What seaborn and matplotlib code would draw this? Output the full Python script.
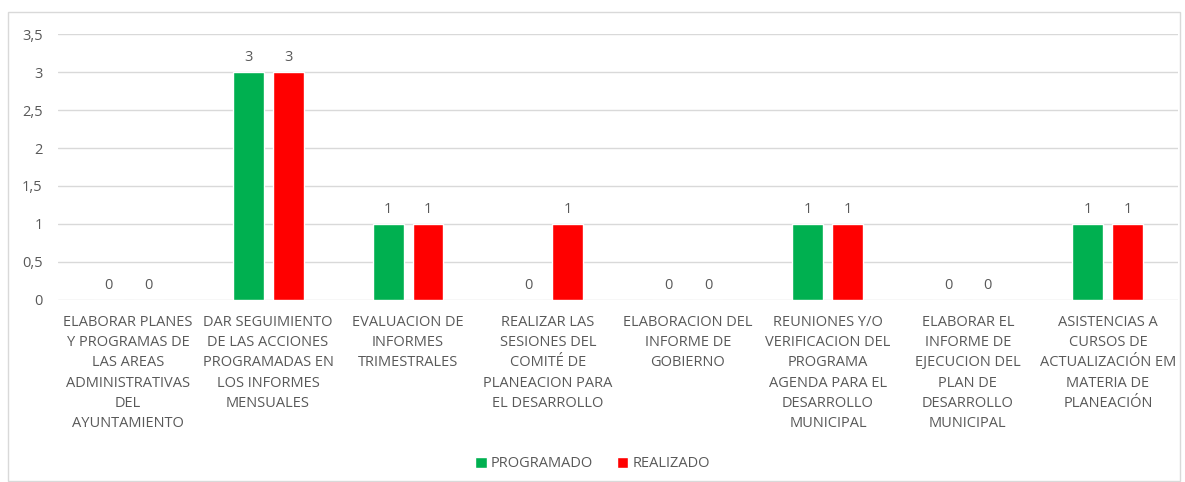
import pandas as pd
import matplotlib
matplotlib.use('Agg')
import matplotlib.pyplot as plt
import seaborn as sns
from matplotlib.patches import Rectangle

categories = [
    "ELABORAR PLANES\nY PROGRAMAS DE\nLAS AREAS\nADMINISTRATIVAS\nDEL\nAYUNTAMIENTO",
    "DAR SEGUIMIENTO\nDE LAS ACCIONES\nPROGRAMADAS EN\nLOS INFORMES\nMENSUALES",
    "EVALUACION DE\nINFORMES\nTRIMESTRALES",
    "REALIZAR LAS\nSESIONES DEL\nCOMITÉ DE\nPLANEACION PARA\nEL DESARROLLO",
    "ELABORACION DEL\nINFORME DE\nGOBIERNO",
    "REUNIONES Y/O\nVERIFICACION DEL\nPROGRAMA\nAGENDA PARA EL\nDESARROLLO\nMUNICIPAL",
    "ELABORAR EL\nINFORME DE\nEJECUCION DEL\nPLAN DE\nDESARROLLO\nMUNICIPAL",
    "ASISTENCIAS A\nCURSOS DE\nACTUALIZACIÓN EM\nMATERIA DE\nPLANEACIÓN",
]
programado = [0, 3, 1, 0, 0, 1, 0, 1]
realizado = [0, 3, 1, 1, 0, 1, 0, 1]
series = ["PROGRAMADO", "REALIZADO"]
colors = ["#00b050", "#ff0000"]

df = pd.DataFrame({
    "cat": categories * 2,
    "serie": [series[0]] * len(categories) + [series[1]] * len(categories),
    "valor": programado + realizado,
})

sns.set_style("white")
plt.rcParams['font.family'] = ['Open Sans', 'DejaVu Sans']
txt = "#595959"

fig = plt.figure(figsize=(11.85, 4.82), dpi=100)
ax = fig.add_axes([0.049, 0.378, 0.945, 0.551])

sns.barplot(data=df, x="cat", y="valor", hue="serie", palette=colors,
            saturation=1, width=0.571, gap=0.225, ax=ax, legend=True)

for c in ax.containers:
    ax.bar_label(c, fmt="%g", padding=5, fontsize=10.5, color=txt)

ax.set_ylim(0, 3.5)
ax.set_yticks([0, 0.5, 1, 1.5, 2, 2.5, 3, 3.5])
ax.set_yticklabels(["0", "0,5", "1", "1,5", "2", "2,5", "3", "3,5"])
ax.grid(axis='y', color="#d9d9d9", linewidth=1)
ax.set_axisbelow(True)
for s in ax.spines.values():
    s.set_visible(False)
ax.set_xlabel("")
ax.set_ylabel("")
ax.tick_params(axis='y', length=0, labelsize=10.5, labelcolor=txt, pad=11)
ax.tick_params(axis='x', length=0, labelsize=10.5, labelcolor=txt, pad=11)
for lab in ax.get_xticklabels():
    lab.set_linespacing(1.47)
ax.set_xlim(-0.5, len(categories) - 0.5)

handles, labels = ax.get_legend_handles_labels()
ax.legend(handles, labels, loc='center', bbox_to_anchor=(0.5, 0.038),
          bbox_transform=fig.transFigure, ncol=2, frameon=False,
          fontsize=10.5, labelcolor=txt, handlelength=0.8, handleheight=0.8,
          handletextpad=0.3, columnspacing=1.6)

fig.patches.append(Rectangle((8 / 1185, 1 / 482), 1172 / 1185, 469 / 482,
                             transform=fig.transFigure, fill=False,
                             edgecolor="#d9d9d9", linewidth=1))

fig.savefig("out.png", dpi=100)
